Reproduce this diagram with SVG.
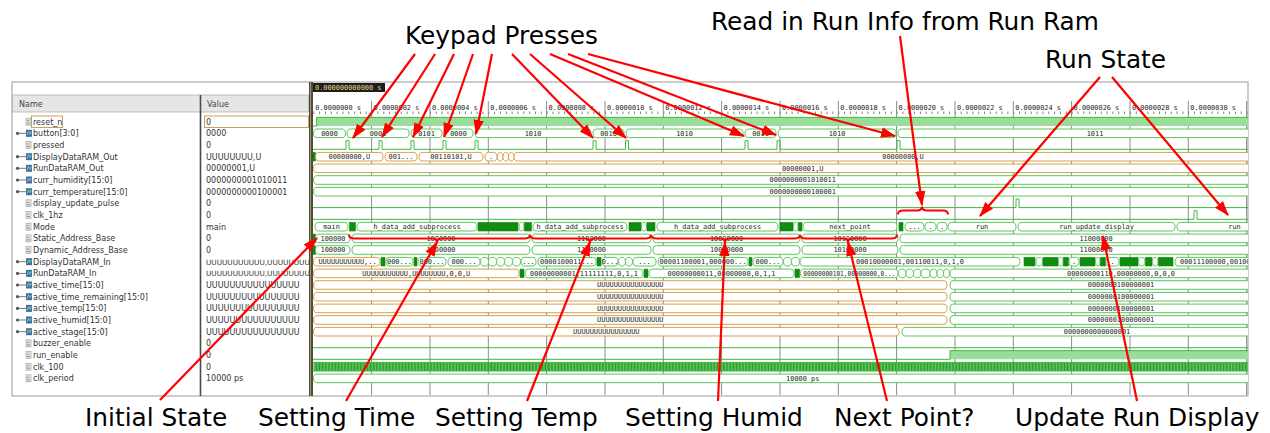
<svg xmlns="http://www.w3.org/2000/svg" width="1270" height="433" viewBox="0 0 1270 433">
<style>
  .ann { font-family: "DejaVu Sans", Verdana, sans-serif; font-size: 24.8px; fill: #000; }
  .nm { font-family: "DejaVu Sans", sans-serif; font-size: 8px; fill: #333; }
  .nm7 { font-family: "DejaVu Sans", sans-serif; font-size: 7.3px; fill: #333; }
  .hd { font-family: "DejaVu Sans", sans-serif; font-size: 8px; fill: #444; }
  .w { font-family: "DejaVu Sans Mono", monospace; font-size: 6.9px; fill: #222; text-anchor: middle; }
  .rl { font-family: "DejaVu Sans Mono", monospace; font-size: 6.9px; fill: #222; }
  .g { fill: #fff; stroke: #5cc65c; stroke-width: 1; rx: 3.5px; ry: 4.3px; }
  .o { fill: #fff; stroke: #d5a14a; stroke-width: 1; rx: 3.5px; ry: 4.3px; }
  .d { fill: #108c10; stroke: #108c10; stroke-width: 0.6; }
  .bit { fill: none; stroke: #3fb83f; stroke-width: 1; }
  .grid { stroke: #8c8c8c; stroke-width: 1; }
  .arr { fill: none; stroke: #f00; stroke-width: 2.2; marker-end: url(#ah); }
  .brace { fill: none; stroke: #f00; stroke-width: 2; }
</style>
<defs>
  <marker id="ah" markerUnits="userSpaceOnUse" markerWidth="16" markerHeight="12" refX="14" refY="6" orient="auto">
    <path d="M0,0.8 L15,6 L0,11.2 Z" fill="#f00"/>
  </marker>
  <pattern id="tk" x="313.3" y="0" width="5.833" height="433" patternUnits="userSpaceOnUse">
    <rect x="0" y="0" width="0.8" height="433" fill="#666"/>
  </pattern>
  <pattern id="ck" x="313.3" y="0" width="1.458" height="433" patternUnits="userSpaceOnUse">
    <rect width="1.458" height="433" fill="#62c962"/>
    <rect width="0.6" height="433" fill="#1f8f1f"/>
  </pattern>
  <clipPath id="wv"><rect x="313" y="82" width="935" height="314"/></clipPath>
  <clipPath id="vc"><rect x="202" y="95" width="107" height="300"/></clipPath>
  <g id="ibit">
    <rect x="0" y="-3.5" width="5" height="7" fill="#e2e2e2" stroke="#9a9a9a" stroke-width="0.6"/>
    <path d="M1,1.5 H4 M1,-1 H3" stroke="#4a9a4a" stroke-width="0.8"/>
  </g>
  <g id="ibus">
    <circle cx="-8.5" cy="0" r="1.6" fill="#555"/>
    <path d="M-8.5,0 H0" stroke="#555" stroke-width="0.8"/>
    <rect x="0" y="-3.5" width="6" height="7" fill="#3d6fa8"/>
    <path d="M1,2 L2.5,-2 L4,1 L5.5,-2" stroke="#8fd08f" stroke-width="0.9" fill="none"/>
  </g>
</defs>

<rect width="1270" height="433" fill="#fff"/>

<!-- viewer frame -->
<g id="frame">
  <rect x="12" y="82" width="1236" height="314" fill="#fff" stroke="#9a9a9a" stroke-width="1"/>
  <rect x="12.5" y="95" width="296" height="17" fill="#e6e6e6" stroke="#b0b0b0" stroke-width="0.8"/>
  <text class="hd" x="19" y="106.5">Name</text>
  <text class="hd" x="207" y="106.5">Value</text>
  <line x1="200.5" y1="95" x2="200.5" y2="396" stroke="#4a4a4a" stroke-width="1.6"/>
  <rect x="309" y="82" width="4" height="314" fill="#4e4c3c"/>
  <line x1="310.5" y1="82" x2="310.5" y2="396" stroke="#b8a870" stroke-width="0.8"/>
  <rect x="31.5" y="116" width="31" height="11.5" fill="none" stroke="#c9a063" stroke-width="1"/>
  <rect x="204.5" y="116" width="104" height="11.5" fill="none" stroke="#c9a063" stroke-width="1"/>
</g>

<!-- signal names -->
<g id="names">
  <use href="#ibit" x="26" y="121.7"/><text class="nm" x="33" y="124.7">reset_n</text>
  <use href="#ibus" x="26" y="133.3"/><text class="nm" x="33" y="136.3">button[3:0]</text>
  <use href="#ibit" x="26" y="145.0"/><text class="nm" x="33" y="148.0">pressed</text>
  <use href="#ibus" x="26" y="156.7"/><text class="nm" x="33" y="159.7">DisplayDataRAM_Out</text>
  <use href="#ibus" x="26" y="168.3"/><text class="nm" x="33" y="171.3">RunDataRAM_Out</text>
  <use href="#ibus" x="26" y="180.0"/><text class="nm" x="33" y="183.0">curr_humidity[15:0]</text>
  <use href="#ibus" x="26" y="191.7"/><text class="nm" x="33" y="194.7">curr_temperature[15:0]</text>
  <use href="#ibit" x="26" y="203.3"/><text class="nm" x="33" y="206.3">display_update_pulse</text>
  <use href="#ibit" x="26" y="215.0"/><text class="nm" x="33" y="218.0">clk_1hz</text>
  <use href="#ibit" x="26" y="226.7"/><text class="nm" x="33" y="229.7">Mode</text>
  <use href="#ibit" x="26" y="238.4"/><text class="nm" x="33" y="241.4">Static_Address_Base</text>
  <use href="#ibit" x="26" y="250.0"/><text class="nm" x="33" y="253.0">Dynamic_Address_Base</text>
  <use href="#ibus" x="26" y="261.7"/><text class="nm" x="33" y="264.7">DisplayDataRAM_In</text>
  <use href="#ibus" x="26" y="273.4"/><text class="nm" x="33" y="276.4">RunDataRAM_In</text>
  <use href="#ibus" x="26" y="285.0"/><text class="nm" x="33" y="288.0">active_time[15:0]</text>
  <use href="#ibus" x="26" y="296.7"/><text class="nm" x="33" y="299.7">active_time_remaining[15:0]</text>
  <use href="#ibus" x="26" y="308.4"/><text class="nm" x="33" y="311.4">active_temp[15:0]</text>
  <use href="#ibus" x="26" y="320.0"/><text class="nm" x="33" y="323.0">active_humid[15:0]</text>
  <use href="#ibus" x="26" y="331.7"/><text class="nm" x="33" y="334.7">active_stage[15:0]</text>
  <use href="#ibit" x="26" y="343.4"/><text class="nm" x="33" y="346.4">buzzer_enable</text>
  <use href="#ibit" x="26" y="355.0"/><text class="nm" x="33" y="358.0">run_enable</text>
  <use href="#ibit" x="26" y="366.7"/><text class="nm" x="33" y="369.7">clk_100</text>
  <use href="#ibit" x="26" y="378.4"/><text class="nm" x="33" y="381.4">clk_period</text>
</g>

<!-- current values -->
<g id="values" clip-path="url(#vc)">
  <text class="nm" x="206" y="124.7">0</text>
  <text class="nm" x="206" y="136.3">0000</text>
  <text class="nm" x="206" y="148.0">0</text>
  <text class="nm" x="206" y="159.7">UUUUUUUU,U</text>
  <text class="nm" x="206" y="171.3">00000001,U</text>
  <text class="nm" x="206" y="183.0">0000000001010011</text>
  <text class="nm" x="206" y="194.7">0000000000100001</text>
  <text class="nm" x="206" y="206.3">0</text>
  <text class="nm" x="206" y="218.0">0</text>
  <text class="nm" x="206" y="229.7">main</text>
  <text class="nm" x="206" y="241.4">0</text>
  <text class="nm" x="206" y="253.0">0</text>
  <text class="nm7" x="206" y="264.7">UUUUUUUUUUU,UUUUUUUU,</text>
  <text class="nm7" x="206" y="276.4">UUUUUUUUUUU,UUUUUUUU,</text>
  <text class="nm" x="206" y="288.0">UUUUUUUUUUUUUUUU</text>
  <text class="nm" x="206" y="299.7">UUUUUUUUUUUUUUUU</text>
  <text class="nm" x="206" y="311.4">UUUUUUUUUUUUUUUU</text>
  <text class="nm" x="206" y="323.0">UUUUUUUUUUUUUUUU</text>
  <text class="nm" x="206" y="334.7">UUUUUUUUUUUUUUUU</text>
  <text class="nm" x="206" y="346.4">0</text>
  <text class="nm" x="206" y="358.0">0</text>
  <text class="nm" x="206" y="369.7">0</text>
  <text class="nm" x="206" y="381.4">10000 ps</text>
</g>

<!-- time ruler and grid -->
<g id="ruler" clip-path="url(#wv)">
  <rect x="313" y="83" width="72" height="9" fill="#1e1e1e"/>
  <text class="rl" x="315" y="90" style="fill:#e8dc8a">0.000000000000 s</text>
  <rect x="313" y="111.5" width="935" height="2.6" fill="url(#tk)"/>
  <g class="grid">
    <line x1="371.6" y1="101" x2="371.6" y2="395"/>
    <line x1="430.0" y1="101" x2="430.0" y2="395"/>
    <line x1="488.3" y1="101" x2="488.3" y2="395"/>
    <line x1="546.6" y1="101" x2="546.6" y2="395"/>
    <line x1="605.0" y1="101" x2="605.0" y2="395"/>
    <line x1="663.3" y1="101" x2="663.3" y2="395"/>
    <line x1="721.6" y1="101" x2="721.6" y2="395"/>
    <line x1="780.0" y1="101" x2="780.0" y2="395"/>
    <line x1="838.3" y1="101" x2="838.3" y2="395"/>
    <line x1="896.6" y1="101" x2="896.6" y2="395"/>
    <line x1="955.0" y1="101" x2="955.0" y2="395"/>
    <line x1="1013.3" y1="101" x2="1013.3" y2="395"/>
    <line x1="1071.6" y1="101" x2="1071.6" y2="395"/>
    <line x1="1130.0" y1="101" x2="1130.0" y2="395"/>
    <line x1="1188.3" y1="101" x2="1188.3" y2="395"/>
    <line x1="1246.6" y1="101" x2="1246.6" y2="395"/>
  </g>
  <text class="rl" x="315.3" y="110">0.0000000 s</text>
  <text class="rl" x="373.6" y="110">0.0000002 s</text>
  <text class="rl" x="432.0" y="110">0.0000004 s</text>
  <text class="rl" x="490.3" y="110">0.0000006 s</text>
  <text class="rl" x="548.6" y="110">0.0000008 s</text>
  <text class="rl" x="607.0" y="110">0.0000010 s</text>
  <text class="rl" x="665.3" y="110">0.0000012 s</text>
  <text class="rl" x="723.6" y="110">0.0000014 s</text>
  <text class="rl" x="782.0" y="110">0.0000016 s</text>
  <text class="rl" x="840.3" y="110">0.0000018 s</text>
  <text class="rl" x="898.6" y="110">0.0000020 s</text>
  <text class="rl" x="957.0" y="110">0.0000022 s</text>
  <text class="rl" x="1015.3" y="110">0.0000024 s</text>
  <text class="rl" x="1073.6" y="110">0.0000026 s</text>
  <text class="rl" x="1132.0" y="110">0.0000028 s</text>
  <text class="rl" x="1190.3" y="110">0.0000030 s</text>
</g>

<!-- waveforms -->
<g id="waves" clip-path="url(#wv)">
  <!-- reset_n -->
  <rect x="316.7" y="117.4" width="932" height="8.6" fill="#98de98"/>
  <path class="bit" d="M313,126 H316.7 V117.4 H1248"/>

  <!-- button[3:0] -->
  <g transform="translate(0,133.3)">
    <rect class="g" x="313.5" y="-4.3" width="32" height="8.6"/><text class="w" x="329.5" y="2.4">0000</text>
    <rect class="g" x="347" y="-4.3" width="62" height="8.6"/><text class="w" x="378" y="2.4">0001</text>
    <rect class="g" x="411" y="-4.3" width="31" height="8.6"/><text class="w" x="426.5" y="2.4">0101</text>
    <rect class="g" x="444" y="-4.3" width="29" height="8.6"/><text class="w" x="458.5" y="2.4">0000</text>
    <rect class="g" x="475" y="-4.3" width="116" height="8.6"/><text class="w" x="533" y="2.4">1010</text>
    <rect class="g" x="593" y="-4.3" width="31" height="8.6"/><text class="w" x="608.5" y="2.4">0010</text>
    <rect class="g" x="626" y="-4.3" width="117" height="8.6"/><text class="w" x="684.5" y="2.4">1010</text>
    <rect class="g" x="745" y="-4.3" width="31" height="8.6"/><text class="w" x="760.5" y="2.4">0011</text>
    <rect class="g" x="778" y="-4.3" width="118" height="8.6"/><text class="w" x="837" y="2.4">1010</text>
    <rect class="g" x="898" y="-4.3" width="394" height="8.6"/><text class="w" x="1095" y="2.4">1011</text>
  </g>

  <!-- pressed -->
  <path class="bit" d="M313,149.3 H346 V140.7 H349 V149.3 H379 V140.7 H382 V149.3 H411 V140.7 H414 V149.3 H443 V140.7 H446 V149.3 H475 V140.7 H478 V149.3 H593 V140.7 H596 V149.3 H625.5 V140.7 H628.5 V149.3 H745 V140.7 H748 V149.3 H777 V140.7 H780 V149.3 H897 V140.7 H900 V149.3 H1248"/>

  <!-- DisplayDataRAM_Out -->
  <g transform="translate(0,156.7)">
    <rect class="d" x="313" y="-4.3" width="2.5" height="8.6"/>
    <rect class="o" x="315.5" y="-4.3" width="67.5" height="8.6"/><text class="w" x="349.3" y="2.4">00000000,U</text>
    <rect class="o" x="385" y="-4.3" width="32" height="8.6"/><text class="w" x="401" y="2.4">001...</text>
    <rect class="o" x="419" y="-4.3" width="64" height="8.6"/><text class="w" x="451" y="2.4">00110101,U</text>
    <rect class="o" x="485" y="-4.3" width="12" height="8.6"/><text class="w" x="491" y="2.4">.</text>
    <rect class="o" x="497.5" y="-4.3" width="5.5" height="8.6"/>
    <rect class="o" x="503" y="-4.3" width="5.5" height="8.6"/>
    <rect class="o" x="508.5" y="-4.3" width="5.5" height="8.6"/>
    <rect class="o" x="514" y="-4.3" width="778" height="8.6"/><text class="w" x="903" y="2.4">00000000,U</text>
  </g>

  <!-- RunDataRAM_Out -->
  <g transform="translate(0,168.3)">
    <rect class="o" x="313.5" y="-4.3" width="978.5" height="8.6"/><text class="w" x="802.7" y="2.4">00000001,U</text>
  </g>

  <!-- curr_humidity / curr_temperature -->
  <g transform="translate(0,180)">
    <rect class="g" x="313.5" y="-4.3" width="978.5" height="8.6"/><text class="w" x="802.7" y="2.4">0000000001010011</text>
  </g>
  <g transform="translate(0,191.7)">
    <rect class="g" x="313.5" y="-4.3" width="978.5" height="8.6"/><text class="w" x="802.7" y="2.4">0000000000100001</text>
  </g>

  <!-- display_update_pulse / clk_1hz -->
  <path class="bit" d="M313,207.6 H1016 V199 H1019 V207.6 H1248"/>
  <path class="bit" d="M313,219.3 H1194 V210.7 H1197 V219.3 H1248"/>

  <!-- Mode -->
  <g transform="translate(0,226.7)">
    <rect class="g" x="315" y="-4.3" width="33" height="8.6"/><text class="w" x="331.5" y="2.4">main</text>
    <rect class="d" x="349.5" y="-4.3" width="6" height="8.6"/>
    <rect class="g" x="357" y="-4.3" width="120" height="8.6"/><text class="w" x="417" y="2.4">h_data_add_subprocess</text>
    <rect class="d" x="478" y="-4.3" width="40" height="8.6"/>
    <rect class="g" x="519" y="-4.3" width="5" height="8.6"/>
    <rect class="d" x="524.5" y="-4.3" width="7" height="8.6"/>
    <rect class="g" x="533" y="-4.3" width="94" height="8.6"/><text class="w" x="580" y="2.4">h_data_add_subprocess</text>
    <rect class="d" x="629" y="-4.3" width="12" height="8.6"/>
    <rect class="g" x="641.5" y="-4.3" width="5" height="8.6"/>
    <rect class="d" x="647" y="-4.3" width="8" height="8.6"/>
    <rect class="g" x="657" y="-4.3" width="121" height="8.6"/><text class="w" x="717.5" y="2.4">h_data_add_subprocess</text>
    <rect class="d" x="780" y="-4.3" width="13" height="8.6"/>
    <rect class="g" x="793.5" y="-4.3" width="4.5" height="8.6"/>
    <rect class="d" x="798.5" y="-4.3" width="3.5" height="8.6"/>
    <rect class="g" x="803" y="-4.3" width="94" height="8.6"/><text class="w" x="850" y="2.4">next_point</text>
    <rect class="d" x="899" y="-4.3" width="4" height="8.6"/>
    <rect class="g" x="905" y="-4.3" width="19" height="8.6"/><text class="w" x="914.5" y="2.4">...</text>
    <rect class="g" x="925" y="-4.3" width="11" height="8.6"/><text class="w" x="930.5" y="2.4">.</text>
    <rect class="g" x="937" y="-4.3" width="10" height="8.6"/><text class="w" x="942" y="2.4">.</text>
    <rect class="g" x="948" y="-4.3" width="68" height="8.6"/><text class="w" x="982" y="2.4">run</text>
    <rect class="g" x="1018" y="-4.3" width="157" height="8.6"/><text class="w" x="1096.5" y="2.4">run_update_display</text>
    <rect class="g" x="1177" y="-4.3" width="115" height="8.6"/><text class="w" x="1234.5" y="2.4">run</text>
  </g>

  <!-- Static_Address_Base -->
  <g transform="translate(0,238.4)">
    <rect class="d" x="313" y="-4.3" width="2.5" height="8.6"/>
    <rect class="g" x="315.5" y="-4.3" width="34.5" height="8.6"/><text class="w" x="333" y="2.4">100000</text>
    <rect class="g" x="352" y="-4.3" width="178" height="8.6"/><text class="w" x="441" y="2.4">1000000</text>
    <rect class="g" x="532" y="-4.3" width="119" height="8.6"/><text class="w" x="591.5" y="2.4">1100000</text>
    <rect class="g" x="653" y="-4.3" width="147" height="8.6"/><text class="w" x="726.5" y="2.4">10000000</text>
    <rect class="g" x="802" y="-4.3" width="96" height="8.6"/><text class="w" x="850" y="2.4">10100000</text>
    <rect class="g" x="900" y="-4.3" width="392" height="8.6"/><text class="w" x="1096" y="2.4">11000000</text>
  </g>

  <!-- Dynamic_Address_Base -->
  <g transform="translate(0,250)">
    <rect class="d" x="313" y="-4.3" width="2.5" height="8.6"/>
    <rect class="g" x="315.5" y="-4.3" width="34.5" height="8.6"/><text class="w" x="333" y="2.4">100000</text>
    <rect class="g" x="352" y="-4.3" width="178" height="8.6"/><text class="w" x="441" y="2.4">1000000</text>
    <rect class="g" x="532" y="-4.3" width="119" height="8.6"/><text class="w" x="591.5" y="2.4">1100000</text>
    <rect class="g" x="653" y="-4.3" width="147" height="8.6"/><text class="w" x="726.5" y="2.4">10000000</text>
    <rect class="g" x="802" y="-4.3" width="96" height="8.6"/><text class="w" x="850" y="2.4">10100000</text>
    <rect class="g" x="900" y="-4.3" width="392" height="8.6"/><text class="w" x="1096" y="2.4">11000000</text>
  </g>

  <!-- DisplayDataRAM_In -->
  <g transform="translate(0,261.7)">
    <rect class="o" x="313.5" y="-4.3" width="66.5" height="8.6"/><text class="w" x="347.5" y="2.4">UUUUUUUUUUU,..</text>
    <rect class="d" x="381" y="-4.3" width="4" height="8.6"/>
    <rect class="g" x="386" y="-4.3" width="27" height="8.6"/><text class="w" x="399.5" y="2.4">000...</text>
    <rect class="d" x="414" y="-4.3" width="3" height="8.6"/>
    <rect class="g" x="418" y="-4.3" width="28" height="8.6"/><text class="w" x="432" y="2.4">000...</text>
    <rect class="g" x="448" y="-4.3" width="32" height="8.6"/><text class="w" x="464" y="2.4">000...</text>
    <rect class="g" x="480.5" y="-4.3" width="8" height="8.6"/>
    <rect class="g" x="488.5" y="-4.3" width="8" height="8.6"/>
    <rect class="g" x="496.5" y="-4.3" width="8" height="8.6"/>
    <rect class="g" x="504.5" y="-4.3" width="8" height="8.6"/>
    <rect class="g" x="512.5" y="-4.3" width="8" height="8.6"/>
    <rect class="g" x="521" y="-4.3" width="15" height="8.6"/><text class="w" x="528.5" y="2.4">...</text>
    <rect class="g" x="538" y="-4.3" width="58" height="8.6"/><text class="w" x="567" y="2.4">0000100011...</text>
    <rect class="d" x="597" y="-4.3" width="4" height="8.6"/>
    <rect class="g" x="602" y="-4.3" width="16" height="8.6"/><text class="w" x="610" y="2.4">0...</text>
    <rect class="g" x="618.5" y="-4.3" width="7" height="8.6"/>
    <rect class="g" x="625.5" y="-4.3" width="7" height="8.6"/>
    <rect class="g" x="633" y="-4.3" width="23" height="8.6"/><text class="w" x="644.5" y="2.4">...</text>
    <rect class="g" x="658" y="-4.3" width="90" height="8.6"/><text class="w" x="703" y="2.4">00001100001,000000...</text>
    <rect class="d" x="749" y="-4.3" width="3" height="8.6"/>
    <rect class="g" x="753" y="-4.3" width="30" height="8.6"/><text class="w" x="768" y="2.4">000...</text>
    <rect class="g" x="783.5" y="-4.3" width="8" height="8.6"/>
    <rect class="g" x="791.5" y="-4.3" width="8" height="8.6"/>
    <rect class="g" x="800" y="-4.3" width="220" height="8.6"/><text class="w" x="910" y="2.4">00010000001,00110011,0,1,0</text>
    <rect class="d" x="1024" y="-4.3" width="11" height="8.6"/>
    <rect class="g" x="1036" y="-4.3" width="6.5" height="8.6"/>
    <rect class="d" x="1043" y="-4.3" width="15" height="8.6"/>
    <rect class="g" x="1058.5" y="-4.3" width="4.5" height="8.6"/>
    <rect class="d" x="1063.5" y="-4.3" width="5" height="8.6"/>
    <rect class="g" x="1069" y="-4.3" width="10" height="8.6"/><text class="w" x="1074" y="2.4">.</text>
    <rect class="d" x="1080" y="-4.3" width="15" height="8.6"/>
    <rect class="g" x="1095.5" y="-4.3" width="4.5" height="8.6"/>
    <rect class="d" x="1100.5" y="-4.3" width="5" height="8.6"/>
    <rect class="g" x="1106" y="-4.3" width="13" height="8.6"/><text class="w" x="1112.5" y="2.4">.</text>
    <rect class="d" x="1120" y="-4.3" width="18" height="8.6"/>
    <rect class="g" x="1138.5" y="-4.3" width="6.5" height="8.6"/>
    <rect class="d" x="1145.5" y="-4.3" width="6.5" height="8.6"/>
    <rect class="g" x="1152.5" y="-4.3" width="5.5" height="8.6"/>
    <rect class="d" x="1158.5" y="-4.3" width="14.5" height="8.6"/>
    <rect class="g" x="1175" y="-4.3" width="117" height="8.6"/><text class="w" x="1234" y="2.4">00011100000,00100000,0,0,0</text>
  </g>

  <!-- RunDataRAM_In -->
  <g transform="translate(0,273.4)">
    <rect class="o" x="313.5" y="-4.3" width="205.5" height="8.6"/><text class="w" x="416.3" y="2.4">UUUUUUUUUUU,UUUUUUUU,0,0,U</text>
    <rect class="d" x="520" y="-4.3" width="4" height="8.6"/>
    <rect class="g" x="525" y="-4.3" width="118" height="8.6"/><text class="w" x="584" y="2.4">00000000001,11111111,0,1,1</text>
    <rect class="d" x="644" y="-4.3" width="4" height="8.6"/>
    <rect class="g" x="649" y="-4.3" width="145" height="8.6"/><text class="w" x="721.5" y="2.4">00000000011,00000000,0,1,1</text>
    <rect class="d" x="795" y="-4.3" width="4.5" height="8.6"/>
    <rect class="g" x="800.5" y="-4.3" width="97.5" height="8.6"/><text class="w" x="849.3" y="2.4" textLength="92" lengthAdjust="spacingAndGlyphs">00000000101,00000000,0...</text>
    <rect class="g" x="898.5" y="-4.3" width="7.5" height="8.6"/>
    <rect class="g" x="906" y="-4.3" width="7.5" height="8.6"/>
    <rect class="g" x="913.5" y="-4.3" width="7.5" height="8.6"/>
    <rect class="g" x="921" y="-4.3" width="9" height="8.6"/>
    <rect class="g" x="930" y="-4.3" width="7" height="8.6"/>
    <rect class="g" x="937" y="-4.3" width="6.5" height="8.6"/>
    <rect class="g" x="943.5" y="-4.3" width="6" height="8.6"/>
    <rect class="g" x="950" y="-4.3" width="342" height="8.6"/><text class="w" x="1121" y="2.4">00000000110,00000000,0,0,0</text>
  </g>

  <!-- active_time / remaining / temp / humid -->
  <g transform="translate(0,285)">
    <rect class="o" x="313.5" y="-4.3" width="633.5" height="8.6"/><text class="w" x="630.3" y="2.4">UUUUUUUUUUUUUUUU</text>
    <rect class="g" x="950" y="-4.3" width="342" height="8.6"/><text class="w" x="1121" y="2.4">0000000100000001</text>
  </g>
  <g transform="translate(0,296.7)">
    <rect class="o" x="313.5" y="-4.3" width="633.5" height="8.6"/><text class="w" x="630.3" y="2.4">UUUUUUUUUUUUUUUU</text>
    <rect class="g" x="950" y="-4.3" width="342" height="8.6"/><text class="w" x="1121" y="2.4">0000000100000001</text>
  </g>
  <g transform="translate(0,308.4)">
    <rect class="o" x="313.5" y="-4.3" width="633.5" height="8.6"/><text class="w" x="630.3" y="2.4">UUUUUUUUUUUUUUUU</text>
    <rect class="g" x="950" y="-4.3" width="342" height="8.6"/><text class="w" x="1121" y="2.4">0000000100000001</text>
  </g>
  <g transform="translate(0,320)">
    <rect class="o" x="313.5" y="-4.3" width="633.5" height="8.6"/><text class="w" x="630.3" y="2.4">UUUUUUUUUUUUUUUU</text>
    <rect class="g" x="950" y="-4.3" width="342" height="8.6"/><text class="w" x="1121" y="2.4">0000000100000001</text>
  </g>
  <!-- active_stage -->
  <g transform="translate(0,331.7)">
    <rect class="o" x="313.5" y="-4.3" width="585.5" height="8.6"/><text class="w" x="606.3" y="2.4">UUUUUUUUUUUUUUUU</text>
    <rect class="g" x="902" y="-4.3" width="390" height="8.6"/><text class="w" x="1097" y="2.4">0000000000000001</text>
  </g>

  <!-- buzzer_enable / run_enable -->
  <path class="bit" d="M313,347.7 H1248"/>
  <rect x="950" y="350.7" width="298" height="8.6" fill="#98de98"/>
  <path class="bit" d="M313,359.3 H950 V350.7 H1248"/>

  <!-- clk_100 -->
  <rect x="313.5" y="362.4" width="935" height="8.6" fill="url(#ck)"/>
  <path class="bit" d="M313,362.4 H1248 M313,371 H1248"/>

  <!-- clk_period -->
  <g transform="translate(0,378.4)">
    <rect class="g" x="313.5" y="-4.3" width="978.5" height="8.6"/><text class="w" x="802.7" y="2.4">10000 ps</text>
  </g>
</g>

<!-- annotation labels -->
<g id="labels">
  <text class="ann" x="405" y="44">Keypad Presses</text>
  <text class="ann" x="711" y="30">Read in Run Info from Run Ram</text>
  <text class="ann" x="1045" y="68">Run State</text>
  <text class="ann" x="85" y="426">Initial State</text>
  <text class="ann" x="258" y="426">Setting Time</text>
  <text class="ann" x="435" y="426">Setting Temp</text>
  <text class="ann" x="625" y="426">Setting Humid</text>
  <text class="ann" x="834" y="426">Next Point?</text>
  <text class="ann" x="1015" y="426">Update Run Display</text>
</g>

<!-- connectors: red annotation arrows and braces -->
<g id="connectors">
  <path class="brace" d="M349,234.5 Q349,238.4 354,238.4 L432,238.4 Q437,238.4 437,242.5 Q437,238.4 442,238.4 L525,238.4 Q530,238.4 530,234.5 Q530,238.4 535,238.4 L585,238.4 Q590,238.4 590,242.5 Q590,238.4 595,238.4 L646,238.4 Q651,238.4 651,234.5 Q651,238.4 656,238.4 L720,238.4 Q725,238.4 725,242.5 Q725,238.4 730,238.4 L795,238.4 Q800,238.4 800,234.5 Q800,238.4 805,238.4 L843,238.4 Q848,238.4 848,242.5 Q848,238.4 853,238.4 L892,238.4 Q897,238.4 897,234.5"/>
  <path class="brace" d="M898,214.5 Q898,210.5 903,210.5 L917,210.5 Q922,210.5 922,206.5 Q922,210.5 927,210.5 L943,210.5 Q948,210.5 948,214.5"/>

  <line class="arr" x1="415" y1="54" x2="353" y2="138"/>
  <line class="arr" x1="435" y1="54" x2="382" y2="137"/>
  <line class="arr" x1="454" y1="54" x2="413" y2="137"/>
  <line class="arr" x1="473" y1="54" x2="444" y2="137"/>
  <line class="arr" x1="492" y1="54" x2="476" y2="134"/>
  <line class="arr" x1="512" y1="54" x2="593" y2="138"/>
  <line class="arr" x1="530" y1="54" x2="626" y2="138"/>
  <line class="arr" x1="550" y1="54" x2="744" y2="136"/>
  <line class="arr" x1="568" y1="54" x2="776" y2="135"/>
  <line class="arr" x1="588" y1="54" x2="895" y2="136"/>

  <line class="arr" x1="900" y1="36" x2="922" y2="205"/>
  <line class="arr" x1="1100" y1="77" x2="980" y2="216"/>
  <line class="arr" x1="1112" y1="77" x2="1228" y2="215"/>

  <line class="arr" x1="160" y1="400" x2="317" y2="238"/>
  <line class="arr" x1="346" y1="401" x2="437" y2="242"/>
  <line class="arr" x1="527" y1="401" x2="590" y2="242"/>
  <line class="arr" x1="718" y1="401" x2="725" y2="242"/>
  <line class="arr" x1="887" y1="401" x2="848" y2="242"/>
  <line class="arr" x1="1137" y1="401" x2="1103" y2="236"/>
</g>
</svg>
